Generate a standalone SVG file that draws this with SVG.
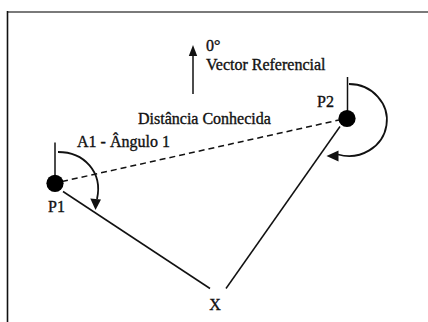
<svg xmlns="http://www.w3.org/2000/svg" width="428" height="322" viewBox="0 0 428 322">
<style>
.lbl{font-family:"Liberation Serif","DejaVu Serif",serif;font-size:16px;fill:#111;stroke:#111;stroke-width:0.35}
.ln{stroke:#111;stroke-width:1.5;fill:none}
.arc{stroke:#111;stroke-width:1.8;fill:none}
.head{fill:#111}
</style>
<rect x="0" y="0" width="428" height="322" fill="#fff"/>
<g id="frame">
<line x1="7" y1="12" x2="428" y2="12" stroke="#7a7a7a" stroke-width="1.8"/>
<line x1="7.5" y1="11" x2="7.5" y2="322" stroke="#111" stroke-width="1.6"/>
</g>
<g id="connectors">
<line class="ln" x1="62" y1="181.5" x2="339" y2="120" stroke-dasharray="6,4"/>
<line class="ln" x1="63" y1="191.5" x2="210" y2="288.5"/>
<line class="ln" x1="340" y1="126.5" x2="226" y2="288.5"/>
</g>
<g id="vector-ref">
<line class="ln" x1="193" y1="94" x2="193" y2="54" stroke-width="1.8"/>
<polygon class="head" points="193,45 188.8,56 197.2,56"/>
<text class="lbl" font-family="Liberation Serif, serif" x="206" y="51" font-size="13">0°</text>
<text class="lbl" font-family="Liberation Serif, serif" x="206" y="70">Vector Referencial</text>
</g>
<g id="distance-label">
<text class="lbl" font-family="Liberation Serif, serif" x="138" y="124">Distância Conhecida</text>
</g>
<g id="P1">
<line class="ln" x1="55" y1="142.5" x2="55" y2="183"/>
<circle cx="55" cy="183.3" r="8.6" fill="#000"/>
<text class="lbl" font-family="Liberation Serif, serif" x="48" y="212">P1</text>
</g>
<g id="A1">
<path class="arc" d="M58,152 C84,152 103,172 97,199"/>
<polygon class="head" points="95.5,210 90.3,198.5 101,199.5"/>
<text class="lbl" font-family="Liberation Serif, serif" x="77" y="147">A1 - Ângulo 1</text>
</g>
<g id="P2">
<line class="ln" x1="347.5" y1="77" x2="347.5" y2="118"/>
<circle cx="347" cy="118.5" r="8.6" fill="#000"/>
<path class="arc" d="M349,84 A38,36 0 1 1 338,154.5"/>
<polygon class="head" points="326.5,156 338.5,150.5 338.5,161.5"/>
<text class="lbl" font-family="Liberation Serif, serif" x="317" y="107">P2</text>
</g>
<g id="X">
<text class="lbl" font-family="Liberation Serif, serif" x="215" y="310" text-anchor="middle">X</text>
</g>
</svg>
